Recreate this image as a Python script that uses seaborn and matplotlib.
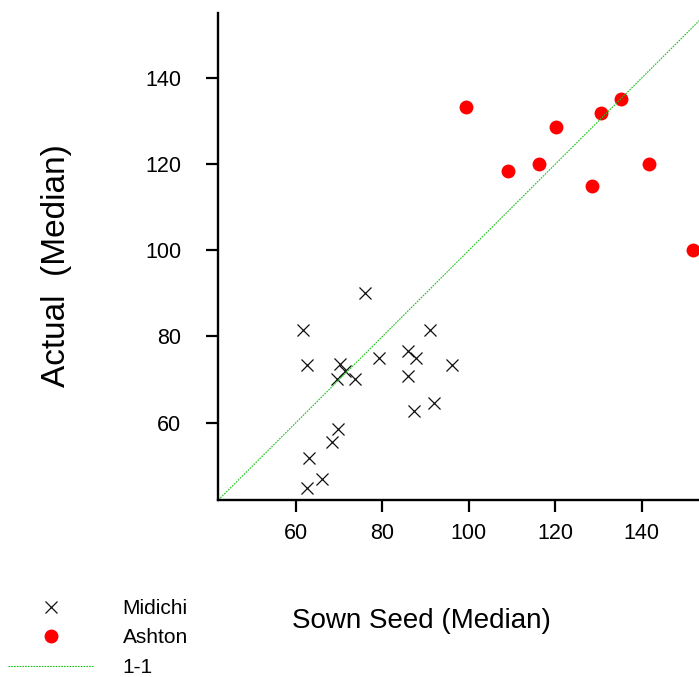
import numpy as np
import pandas as pd
import matplotlib
matplotlib.use("Agg")
import matplotlib.pyplot as plt
from matplotlib.lines import Line2D
import seaborn as sns

# data
midichi_sown = [76.0, 61.7, 91.1, 62.5, 70.2, 71.3, 69.4, 73.7, 79.3, 85.9,
                87.8, 96.0, 86.0, 92.0, 87.2, 69.7, 68.4, 63.1, 66.1, 62.5]
midichi_actual = [90.1, 81.6, 81.4, 73.4, 73.5, 71.9, 70.0, 70.0, 75.1, 76.6,
                  75.1, 73.4, 70.9, 64.6, 62.6, 58.4, 55.4, 51.7, 46.9, 44.9]
ashton_sown = [99.3, 109.1, 116.3, 120.2, 130.6, 135.2, 128.6, 141.8, 151.9]
ashton_actual = [133.4, 118.5, 120.1, 128.6, 131.8, 135.1, 115.0, 120.1, 100.1]
one_to_one = [42, 160]
tick_values = [60, 80, 100, 120, 140]

midichi = pd.DataFrame({"sown": midichi_sown, "actual": midichi_actual})
ashton = pd.DataFrame({"sown": ashton_sown, "actual": ashton_actual})

sns.set_style("ticks")
plt.rcParams["font.family"] = ["Liberation Sans", "DejaVu Sans"]
plt.rcParams["text.color"] = "black"
plt.rcParams["axes.labelcolor"] = "black"

fig = plt.figure(figsize=(6.99, 6.77), dpi=100)
ax = fig.add_axes([0.3123, 0.2614, 0.6877, 0.7198])

line_green = "#19c319"
sns.lineplot(x=one_to_one, y=one_to_one, ax=ax, color=line_green,
             linewidth=0.8, linestyle=(0, (1.5, 1)), legend=False)
sns.scatterplot(data=midichi, x="sown", y="actual", ax=ax, marker="x",
                color="#111111", s=75, linewidth=0.9, legend=False)
sns.scatterplot(data=ashton, x="sown", y="actual", ax=ax, marker="o",
                color="#ff0000", s=100, linewidth=0, legend=False, clip_on=False)

ax.set_xlim(42, 153.3)
ax.set_ylim(42, 155.2)
ax.set_xticks(tick_values)
ax.set_yticks(tick_values)

sns.despine(ax=ax)
for side in ["left", "bottom"]:
    ax.spines[side].set_color("black")
    ax.spines[side].set_linewidth(1.7)
ax.tick_params(axis="both", direction="out", length=8.5, width=1.6,
               colors="black", labelsize=15.5, bottom=True, left=True)
ax.tick_params(axis="x", pad=8)
ax.tick_params(axis="y", pad=18)

ax.set_xlabel("Sown Seed (Median)", fontsize=20, va="center")
ax.xaxis.set_label_coords(0.4217, -0.248)
ax.set_ylabel("Actual  (Median)", fontsize=24, va="center")
ax.yaxis.set_label_coords(-0.3356, 0.482)

handles = [
    Line2D([], [], marker="x", color="#111111", linestyle="none",
           markersize=8.5, markeredgewidth=0.9),
    Line2D([], [], marker="o", color="#ff0000", linestyle="none",
           markersize=10, markeredgewidth=0),
    Line2D([], [], color=line_green, linewidth=0.8, linestyle=(0, (1.5, 1))),
]
fig.legend(handles, ["Midichi", "Ashton", "1-1"], loc="upper left",
           bbox_to_anchor=(8 / 699, 1 - 599 / 677), frameon=False,
           fontsize=15, handlelength=4.1, handletextpad=1.4,
           labelspacing=0.5, borderpad=0, borderaxespad=0)

fig.savefig("out.png", dpi=100)
